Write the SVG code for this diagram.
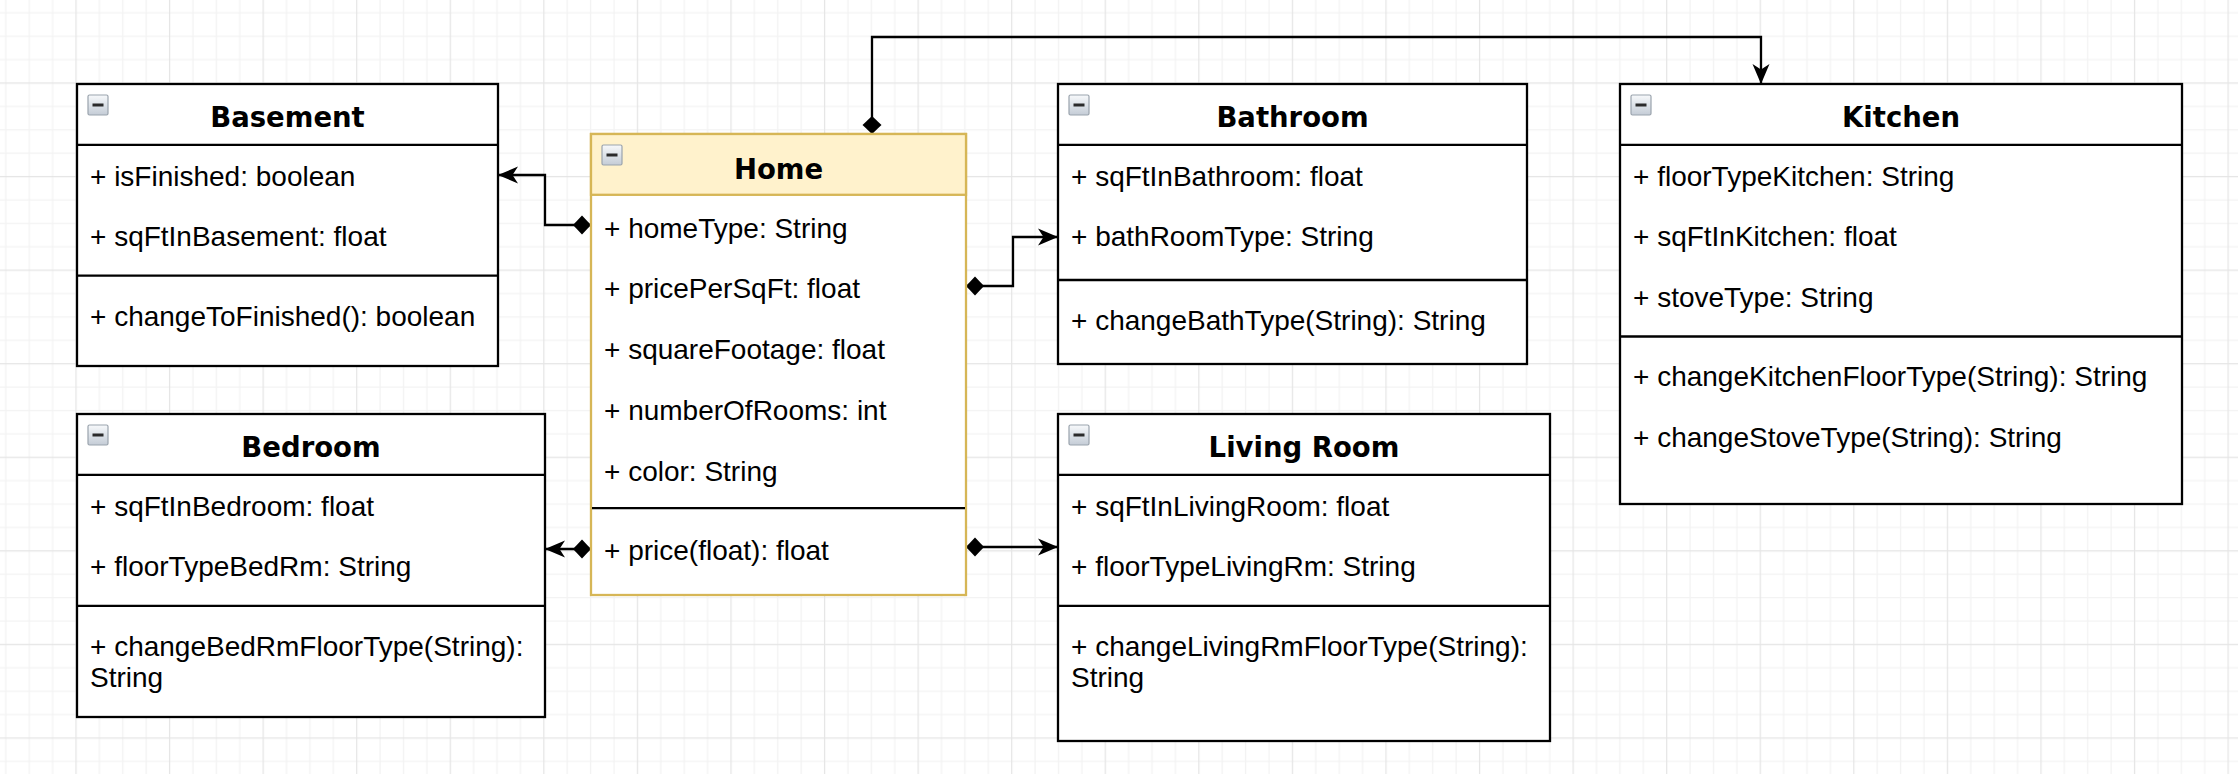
<svg xmlns="http://www.w3.org/2000/svg" width="2238" height="774" viewBox="0 0 2238 774">
<style>
.box{fill:#fff;stroke:#000;stroke-width:2.3}
.home{fill:#fff;stroke:#d6b656;stroke-width:2.3}
.homehead{fill:#fff2cc;stroke:#d6b656;stroke-width:2.3}
.ln{stroke:#000;stroke-width:2.3;fill:none}
.title{font-family:"DejaVu Sans",Verdana,sans-serif;font-weight:bold;font-size:27.5px;fill:#000;text-anchor:middle}
.t{font-family:"Liberation Sans",Arial,Helvetica,sans-serif;font-size:28px;fill:#000}
.con{stroke:#000;stroke-width:2.3;fill:none;marker-start:url(#diamond);marker-end:url(#arrow)}
.ico{fill:url(#icog);stroke:#9aa3ad;stroke-width:1.2}
.icm{stroke:#2b2b2b;stroke-width:3}
</style>
<defs>
<pattern id="grid" patternUnits="userSpaceOnUse" x="75.4" y="82.4" width="93.57" height="93.57">
<rect width="93.57" height="93.57" fill="#fff"/>
<path d="M23.99 0V93.57M47.38 0V93.57M70.78 0V93.57M0 23.99H93.57M0 47.38H93.57M0 70.78H93.57" stroke="#f3f3f3" stroke-width="1.2"/>
<path d="M0.6 0V93.57M0 0.6H93.57" stroke="#e5e5e5" stroke-width="1.2"/>
</pattern>
<linearGradient id="icog" x1="0" y1="0" x2="0" y2="1">
<stop offset="0" stop-color="#f7f9fb"/>
<stop offset="1" stop-color="#c4ccd6"/>
</linearGradient>
<marker id="diamond" markerUnits="userSpaceOnUse" orient="auto" markerWidth="20" markerHeight="22" viewBox="0 -11 20 22" refX="0" refY="0" overflow="visible">
<polygon points="0,0 9,-9.5 18,0 9,9.5" fill="#000"/>
</marker>
<marker id="arrow" markerUnits="userSpaceOnUse" orient="auto" markerWidth="22" markerHeight="20" viewBox="-21 -10 22 20" refX="0" refY="0" overflow="visible">
<polygon points="0,0 -20,-8.5 -14.5,0 -20,8.5" fill="#000"/>
</marker>
</defs>
<rect width="2238" height="774" fill="url(#grid)"/>

<g id="connectors">
<path class="con" d="M872 134V37H1761V84"/>
<path class="con" d="M591 225H545V175H498"/>
<path class="con" d="M591 549H545"/>
<path class="con" d="M966 286H1013V237H1058"/>
<path class="con" d="M966 547H1058"/>
</g>

<g id="basement">
<rect class="box" x="77" y="84" width="421" height="282"/>
<path class="ln" d="M77 144.8H498M77 275.7H498"/>
<rect class="ico" x="88" y="95" width="20" height="20" rx="1.5"/>
<path class="icm" d="M92.5 105H103.5"/>
<text class="title" x="287.5" y="126.7">Basement</text>
<text class="t" x="90" y="185.5">+ isFinished: boolean</text>
<text class="t" x="90" y="246">+ sqFtInBasement: float</text>
<text class="t" x="90" y="326">+ changeToFinished(): boolean</text>
</g>

<g id="home">
<rect class="home" x="591" y="134" width="375" height="461"/>
<rect class="homehead" x="591" y="134" width="375" height="60.8"/>
<path class="ln" d="M592 508.2H965"/>
<rect class="ico" x="602" y="145" width="20" height="20" rx="1.5"/>
<path class="icm" d="M606.5 155H617.5"/>
<text class="title" x="778.5" y="179">Home</text>
<text class="t" x="604" y="237.5">+ homeType: String</text>
<text class="t" x="604" y="298.3">+ pricePerSqFt: float</text>
<text class="t" x="604" y="359.1">+ squareFootage: float</text>
<text class="t" x="604" y="419.9">+ numberOfRooms: int</text>
<text class="t" x="604" y="480.7">+ color: String</text>
<text class="t" x="604" y="560">+ price(float): float</text>
</g>

<g id="bathroom">
<rect class="box" x="1058" y="84" width="469" height="280"/>
<path class="ln" d="M1058 144.8H1527M1058 280H1527"/>
<rect class="ico" x="1069" y="95" width="20" height="20" rx="1.5"/>
<path class="icm" d="M1073.5 105H1084.5"/>
<text class="title" x="1292.5" y="126.7">Bathroom</text>
<text class="t" x="1071" y="185.5">+ sqFtInBathroom: float</text>
<text class="t" x="1071" y="246">+ bathRoomType: String</text>
<text class="t" x="1071" y="330">+ changeBathType(String): String</text>
</g>

<g id="kitchen">
<rect class="box" x="1620" y="84" width="562" height="420"/>
<path class="ln" d="M1620 144.8H2182M1620 336.5H2182"/>
<rect class="ico" x="1631" y="95" width="20" height="20" rx="1.5"/>
<path class="icm" d="M1635.5 105H1646.5"/>
<text class="title" x="1901" y="126.7">Kitchen</text>
<text class="t" x="1633" y="185.5">+ floorTypeKitchen: String</text>
<text class="t" x="1633" y="246.3">+ sqFtInKitchen: float</text>
<text class="t" x="1633" y="307.1">+ stoveType: String</text>
<text class="t" x="1633" y="386.3">+ changeKitchenFloorType(String): String</text>
<text class="t" x="1633" y="447.1">+ changeStoveType(String): String</text>
</g>

<g id="bedroom">
<rect class="box" x="77" y="414" width="468" height="303"/>
<path class="ln" d="M77 474.8H545M77 605.8H545"/>
<rect class="ico" x="88" y="425" width="20" height="20" rx="1.5"/>
<path class="icm" d="M92.5 435H103.5"/>
<text class="title" x="311" y="456.7">Bedroom</text>
<text class="t" x="90" y="515.5">+ sqFtInBedroom: float</text>
<text class="t" x="90" y="576">+ floorTypeBedRm: String</text>
<text class="t" x="90" y="655.5">+ changeBedRmFloorType(String):</text>
<text class="t" x="90" y="687.2">String</text>
</g>

<g id="livingroom">
<rect class="box" x="1058" y="414" width="492" height="327"/>
<path class="ln" d="M1058 474.8H1550M1058 605.8H1550"/>
<rect class="ico" x="1069" y="425" width="20" height="20" rx="1.5"/>
<path class="icm" d="M1073.5 435H1084.5"/>
<text class="title" x="1304" y="456.7">Living Room</text>
<text class="t" x="1071" y="515.5">+ sqFtInLivingRoom: float</text>
<text class="t" x="1071" y="576">+ floorTypeLivingRm: String</text>
<text class="t" x="1071" y="655.5">+ changeLivingRmFloorType(String):</text>
<text class="t" x="1071" y="687.2">String</text>
</g>
</svg>
